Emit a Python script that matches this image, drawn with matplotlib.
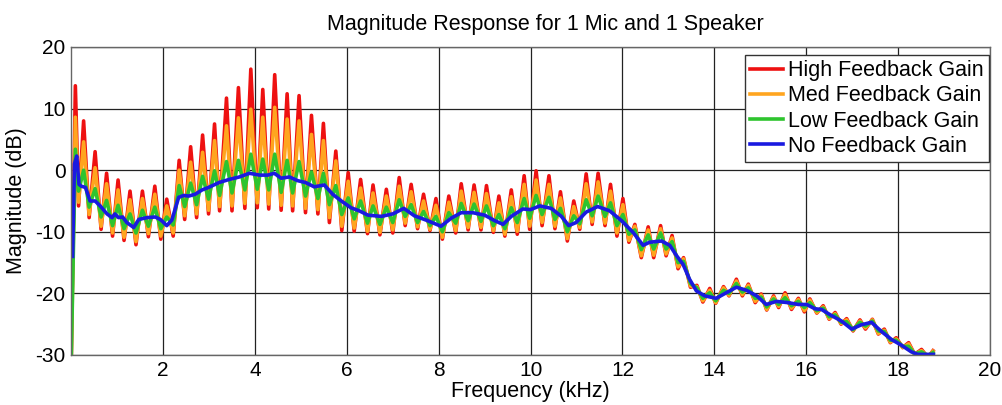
import matplotlib
matplotlib.use("Agg")
import matplotlib.pyplot as plt

plt.rcParams['font.family'] = ['Liberation Sans', 'DejaVu Sans']
plt.rcParams['axes.unicode_minus'] = False

# ripple turning points (kHz), shared by the three feedback curves
turn_khz = [0.0, 0.09, 0.16, 0.27, 0.39, 0.52, 0.65, 0.77, 0.90, 1.02, 1.15, 1.28, 1.41,
            1.55, 1.68, 1.82, 1.95, 2.08, 2.22, 2.35, 2.47, 2.60, 2.73, 2.86, 2.99, 3.12,
            3.23, 3.38, 3.50, 3.64, 3.78, 3.91, 4.05, 4.17, 4.30, 4.43, 4.57, 4.70, 4.82,
            4.96, 5.10, 5.23, 5.37, 5.49, 5.62, 5.76, 5.89, 6.03, 6.16, 6.30, 6.45, 6.57,
            6.72, 6.86, 7.00, 7.14, 7.27, 7.40, 7.54, 7.67, 7.81, 7.94, 8.08, 8.22, 8.37,
            8.49, 8.64, 8.77, 8.92, 9.04, 9.19, 9.31, 9.44, 9.58, 9.71, 9.86, 9.98, 10.12,
            10.25, 10.40, 10.53, 10.65, 10.80, 10.94, 11.07, 11.21, 11.34, 11.47, 11.62,
            11.74, 11.88, 12.01, 12.14, 12.27, 12.41, 12.56, 12.68, 12.83, 12.95, 13.08,
            13.21, 13.33, 13.48, 13.62, 13.75, 13.90, 14.03, 14.20, 14.32, 14.48, 14.61,
            14.74, 14.89, 15.02, 15.14, 15.29, 15.40, 15.54, 15.68, 15.83, 15.96, 16.08,
            16.23, 16.37, 16.50, 16.63, 16.76, 16.88, 17.02, 17.17, 17.29, 17.44, 17.57,
            17.70, 17.83, 17.96, 18.10, 18.23, 18.36, 18.51, 18.65, 18.76]

high_db = [-31, 13.7, -5.8, 8.0, -7.7, 3.0, -9.6, -0.5, -10.7, -1.6, -11.4, -3.4, -12.1,
           -3.4, -10.8, -2.6, -11.2, -4.7, -10.7, 1.6, -8.0, 3.8, -7.7, 5.7, -7.1, 7.5,
           -6.6, 11.7, -6.6, 13.4, -6.2, 16.4, -6.1, 13.1, -6.3, 15.5, -6.5, 12.4, -6.6,
           12.1, -6.9, 8.9, -7.1, 7.6, -8.5, 3.1, -9.8, -0.4, -9.9, -1.5, -10.3, -2.4,
           -10.5, -3.1, -10.2, -1.2, -9.0, -2.3, -9.5, -3.9, -9.8, -4.6, -11.2, -4.2, -10.2,
           -2.2, -9.7, -2.4, -9.7, -2.5, -10.1, -4.2, -10.7, -3.2, -10.4, -0.9, -9.6, -0.1,
           -9.0, -0.9, -9.5, -3.5, -11.5, -5.0, -9.6, -0.6, -8.8, -0.5, -9.0,
           -2.3, -10.7, -4.6, -11.7, -8.8, -14.2, -9.2, -14.2, -9.0, -13.9, -10.6,
           -16.0, -14.2, -19.0, -18.7, -21.4, -19.2, -21.6, -18.9, -20.4, -17.7, -20.4,
           -18.5, -21.5, -20.1, -22.7, -20.4, -22.3, -19.9, -22.6, -20.8, -23.0, -20.9,
           -23.2, -22.0, -24.2, -23.1, -25.0, -24.1, -26.1, -24.3, -25.8, -24.2, -26.6,
           -25.8, -28.0, -27.2, -28.8, -28.0, -29.9, -29.1, -30.4, -29.3]

med_db = [-31, 8.6, -5.2, 4.6, -7.2, 0.4, -9.1, -2.2, -10.2, -3.2, -10.9, -4.8, -11.6,
          -4.6, -10.3, -3.9, -10.7, -5.8, -10.2, 0.0, -7.4, 1.3, -7.1, 2.9, -6.5, 4.8,
          -5.9, 7.2, -5.8, 8.5, -5.4, 9.9, -5.3, 8.6, -5.5, 10.2, -5.7, 8.3, -5.8,
          8.0, -6.2, 5.8, -6.4, 4.8, -7.7, 1.5, -9.1, -1.8, -9.4, -2.9, -9.9, -3.7,
          -10.1, -4.2, -9.7, -2.6, -8.6, -3.5, -9.2, -5.0, -9.6, -5.7, -10.9, -5.2, -9.8,
          -3.4, -9.3, -3.6, -9.3, -3.8, -9.8, -5.3, -10.4, -4.3, -9.9, -2.3, -9.1, -1.6,
          -8.5, -2.3, -9.1, -4.5, -11.1, -5.9, -9.3, -2.2, -8.4, -1.9, -8.6,
          -3.4, -10.2, -5.6, -11.4, -9.1, -13.9, -9.7, -13.8, -9.5, -13.6, -11.0,
          -15.7, -14.4, -18.8, -18.9, -21.2, -19.5, -21.5, -19.1, -20.3, -18.0, -20.2,
          -18.7, -21.3, -20.3, -22.6, -20.6, -22.1, -20.2, -22.4, -21.0, -22.8, -21.1,
          -23.1, -22.2, -24.1, -23.3, -24.9, -24.3, -26.0, -24.5, -25.6, -24.3, -26.5,
          -26.0, -27.9, -27.4, -28.8, -28.2, -29.9, -29.3, -30.3, -29.4]

low_db = [-31, 3.4, -3.4, 0.0, -6.0, -3.0, -7.6, -4.9, -9.0, -5.7, -9.5, -7.1, -10.2,
          -6.5, -9.1, -6.0, -9.5, -7.6, -8.9, -2.5, -5.9, -2.1, -5.6, -1.0, -4.7, -0.1,
          -4.1, 1.4, -3.7, 1.6, -3.2, 2.6, -3.1, 1.8, -3.2, 2.6, -3.6, 1.6, -3.7,
          1.4, -4.2, -0.3, -4.6, -0.5, -5.6, -2.5, -7.2, -4.5, -7.9, -5.0, -8.6, -5.8,
          -8.8, -6.0, -8.5, -4.8, -7.5, -5.6, -8.5, -6.7, -9.0, -7.5, -10.0, -6.9, -8.6,
          -5.4, -8.2, -5.5, -8.3, -5.8, -9.0, -7.2, -9.5, -6.1, -8.5, -4.6, -7.8, -4.1,
          -7.2, -4.4, -8.0, -6.2, -10.0, -7.4, -8.7, -4.8, -7.4, -4.2, -7.5,
          -5.3, -9.0, -7.2, -10.4, -9.7, -12.9, -10.5, -12.8, -10.2, -12.8, -11.6,
          -15.0, -14.8, -18.4, -19.1, -20.8, -19.9, -21.2, -19.5, -20.0, -18.4, -19.8,
          -19.1, -20.8, -20.6, -22.2, -20.9, -21.8, -20.7, -22.0, -21.3, -22.3, -21.5,
          -22.8, -22.4, -23.8, -23.5, -24.7, -24.6, -25.9, -24.7, -25.3, -24.5, -26.1,
          -26.2, -27.6, -27.6, -28.6, -28.6, -29.8, -29.5, -30.1, -29.6]

# no-feedback response
flat_khz = [0.03, 0.07, 0.12, 0.17, 0.22, 0.31, 0.41, 0.52, 0.63, 0.78, 0.89, 0.95, 1.03,
            1.12, 1.21, 1.36, 1.47, 1.65, 1.83, 1.94, 2.08, 2.19, 2.34, 2.45, 2.56, 2.70,
            2.85, 2.99, 3.22, 3.44, 3.66, 3.88, 4.10, 4.28, 4.42, 4.57, 4.75, 4.93, 5.10,
            5.29, 5.51, 5.69, 5.88, 6.09, 6.27, 6.46, 6.75, 7.00, 7.24, 7.47, 7.76, 8.05,
            8.27, 8.49, 8.74, 9.00, 9.22, 9.40, 9.58, 9.83, 10.00, 10.20, 10.45, 10.67,
            10.83, 10.99, 11.21, 11.46, 11.72, 11.98, 12.23, 12.45, 12.59, 12.85, 13.03,
            13.17, 13.32, 13.46, 13.61, 13.79, 14.04, 14.26, 14.48, 14.70, 14.92, 15.13,
            15.35, 15.60, 15.83, 16.01, 16.19, 16.33, 16.55, 16.77, 16.99, 17.20, 17.42,
            17.64, 17.86, 18.07, 18.29, 18.43, 18.77]
none_db = [-14.0, 1.0, 2.3, -2.3, -2.6, -2.8, -5.0, -5.0, -5.8, -7.1, -7.7, -7.1, -7.7,
           -7.6, -8.5, -9.3, -8.0, -7.7, -7.6, -8.0, -9.0, -8.1, -4.4, -4.1, -4.2, -3.9,
           -3.2, -2.8, -2.0, -1.5, -1.1, -0.5, -0.8, -0.8, -0.5, -1.3, -1.1, -1.7, -2.0,
           -2.7, -2.4, -3.9, -5.0, -6.1, -6.6, -7.3, -7.5, -7.1, -6.2, -7.4, -8.2, -9.1,
           -7.8, -6.9, -6.9, -7.3, -8.2, -8.8, -7.5, -6.3, -6.4, -5.8, -6.2, -7.5,
           -9.0, -8.5, -6.8, -5.9, -6.6, -8.2, -10.1, -12.2, -11.7, -11.5, -12.2,
           -13.8, -15.3, -17.7, -19.6, -20.4, -20.8, -19.9, -19.0, -19.5, -20.4, -21.8,
           -21.3, -21.5, -21.8, -21.8, -22.5, -22.6, -23.6, -24.5, -25.8, -25.1, -24.7,
           -26.2, -27.5, -28.4, -29.5, -29.9, -29.9]

fig = plt.figure(figsize=(10.03, 4.05), dpi=100)
ax = fig.add_axes([0.071, 0.1235, 0.916, 0.7605])

lw = 2.6
ax.plot(turn_khz, high_db, color='#ee1111', lw=lw, label='High Feedback Gain')
ax.plot(turn_khz, med_db, color='#ffa51f', lw=lw, label='Med Feedback Gain')
ax.plot(turn_khz, low_db, color='#2ec42e', lw=lw, label='Low Feedback Gain')
ax.plot(flat_khz, none_db, color='#1a1ae0', lw=lw, label='No Feedback Gain')

ax.set_xlim(0, 20)
ax.set_ylim(-30, 20)
ax.set_xticks(range(2, 21, 2))
ax.set_yticks(range(-30, 21, 10))
ax.grid(True, color='#222222', lw=0.9)
ax.set_axisbelow(True)
ax.tick_params(direction='in', length=0, labelsize=15, pad=4)
for s in ax.spines.values():
    s.set_color('#666666')
    s.set_linewidth(1.0)

ax.set_title('Magnitude Response for 1 Mic and 1 Speaker', fontsize=15.5, x=0.516, pad=12)
ax.set_xlabel('Frequency (kHz)', fontsize=15.5, labelpad=1)
ax.set_ylabel('Magnitude (dB)', fontsize=15.5, labelpad=6)

leg = ax.legend(loc='upper right', bbox_to_anchor=(0.999, 0.975), fontsize=15.5,
                fancybox=False, framealpha=1, edgecolor='#333333',
                handlelength=1.5, handletextpad=0.25, labelspacing=0.2,
                borderpad=0.25, borderaxespad=0)
leg.get_frame().set_linewidth(1.0)

fig.savefig('out.png', dpi=100)
